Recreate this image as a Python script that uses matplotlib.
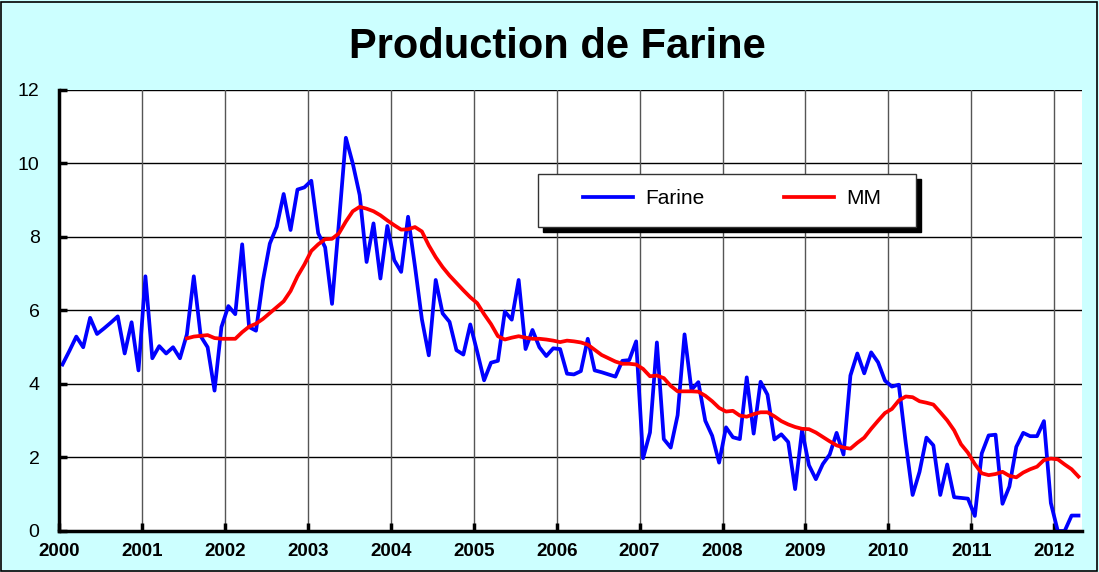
import numpy as np
import matplotlib
matplotlib.use('Agg')
import matplotlib.pyplot as plt
from matplotlib.patches import Rectangle

plt.rcParams['font.family'] = ['Liberation Sans', 'DejaVu Sans']

# monthly data, Jan 2000 - Apr 2012
farine = [4.53, 4.9, 5.29, 5.0, 5.8, 5.36, 5.51, 5.67, 5.84, 4.83, 5.68, 4.37,
          6.93, 4.70, 5.03, 4.83, 5.0, 4.70, 5.35, 6.93, 5.3, 5.0, 3.82, 5.55,
          6.12, 5.9, 7.8, 5.55, 5.45, 6.81, 7.82, 8.28, 9.17, 8.19, 9.29, 9.35,
          9.53, 8.10, 7.72, 6.18, 8.4, 10.70, 10.0, 9.14, 7.32, 8.37, 6.87, 8.30,
          7.37, 7.05, 8.55, 7.2, 5.76, 4.78, 6.83, 5.92, 5.69, 4.92, 4.80, 5.62,
          4.88, 4.10, 4.58, 4.63, 5.97, 5.75, 6.83, 4.95, 5.47, 5.0, 4.76, 4.97,
          4.95, 4.28, 4.26, 4.35, 5.23, 4.37, 4.32, 4.26, 4.2, 4.63, 4.65, 5.16,
          1.98, 2.68, 5.13, 2.5, 2.27, 3.15, 5.35, 3.84, 4.05, 3.0, 2.59, 1.86,
          2.82, 2.55, 2.5, 4.18, 2.65, 4.06, 3.71, 2.49, 2.63, 2.42, 1.14, 2.74,
          1.79, 1.41, 1.82, 2.08, 2.67, 2.08, 4.23, 4.83, 4.29, 4.86, 4.59, 4.09,
          3.93, 3.98, 2.4, 0.98, 1.61, 2.54, 2.33, 0.98, 1.81, 0.92, 0.9, 0.88,
          0.41, 2.11, 2.6, 2.62, 0.74, 1.21, 2.29, 2.67, 2.58, 2.58, 2.99, 0.76,
          0.0, 0.0, 0.42, 0.42]

# moving average, starts at month 18 (Jul 2001)
mm_start = 18
mm = [5.24, 5.29, 5.31, 5.33, 5.25, 5.23,
      5.23, 5.23, 5.41, 5.56, 5.64, 5.77, 5.93, 6.09, 6.25, 6.53, 6.93, 7.25,
      7.62, 7.8, 7.94, 7.95, 8.1, 8.42, 8.7, 8.82, 8.77, 8.7, 8.59, 8.45,
      8.32, 8.2, 8.21, 8.27, 8.15, 7.77, 7.45, 7.18, 6.95, 6.75, 6.55, 6.36,
      6.2, 5.9, 5.63, 5.3, 5.21, 5.26, 5.3, 5.26, 5.23, 5.23, 5.21, 5.18,
      5.14, 5.18, 5.16, 5.13, 5.07, 4.93, 4.79, 4.7, 4.61, 4.55, 4.55, 4.53,
      4.41, 4.21, 4.23, 4.16, 3.95, 3.8, 3.8, 3.8, 3.79, 3.68, 3.53, 3.35,
      3.25, 3.27, 3.14, 3.11, 3.18, 3.23, 3.23, 3.12, 2.99, 2.9, 2.83, 2.78,
      2.77, 2.68, 2.56, 2.44, 2.33, 2.27, 2.24, 2.4, 2.54, 2.78, 3.0, 3.21,
      3.32, 3.55, 3.66, 3.64, 3.53, 3.49, 3.44, 3.23, 3.01, 2.74, 2.36, 2.13,
      1.82, 1.57, 1.52, 1.55, 1.61, 1.5, 1.46, 1.59, 1.68, 1.75, 1.93, 1.97,
      1.95, 1.81, 1.68, 1.48]

years = [str(y) for y in range(2000, 2013)]
yticks = [0, 2, 4, 6, 8, 10, 12]

bg = '#CCFFFF'
n = len(farine)
x = np.arange(n) + 0.5
x_mm = np.arange(mm_start, mm_start + len(mm)) + 0.5

fig = plt.figure(figsize=(10.99, 5.72), dpi=100)
fig.patch.set_facecolor(bg)
fig.patches.append(Rectangle((0.001, 0.002), 0.997, 0.995, transform=fig.transFigure,
                             fill=False, edgecolor='black', linewidth=1.2))

ax = fig.add_axes([0.0537, 0.0717, 0.9308, 0.771])
ax.set_facecolor('white')

ax.plot(x, farine, color='#0000FF', lw=2.7, solid_joinstyle='round', label='Farine', zorder=3)
ax.plot(x_mm, mm, color='#FF0000', lw=2.7, solid_joinstyle='round', label='MM', zorder=4)

ax.set_xlim(0, n)
ax.set_ylim(0, 12)
ax.set_xticks(np.arange(0, 12 * len(years), 12))
ax.set_xticklabels(years, fontsize=13.5, fontweight='bold')
ax.set_yticks(yticks)
ax.set_yticklabels([str(v) for v in yticks], fontsize=14)

for v in yticks[1:]:
    ax.axhline(v, color='black', lw=1, zorder=1)
for t in np.arange(12, n, 12):
    ax.axvline(t, color='#555555', lw=1, zorder=1)

for s in ['top', 'right']:
    ax.spines[s].set_visible(False)
for s in ['left', 'bottom']:
    ax.spines[s].set_linewidth(2.5)
    ax.spines[s].set_zorder(5)
ax.tick_params(axis='both', direction='in', length=6, width=2.5, color='black')
ax.tick_params(axis='y', pad=14)
ax.tick_params(axis='x', pad=9)

# legend frame with shadow
x0, x1, y0, y1 = 0.4682, 0.8377, 0.6893, 0.8095
ax.add_patch(Rectangle((x0 + 0.005, y0 - 0.012), x1 - x0, y1 - y0, transform=ax.transAxes,
                       facecolor='black', edgecolor='black', zorder=6, clip_on=False))
ax.add_patch(Rectangle((x0, y0), x1 - x0, y1 - y0, transform=ax.transAxes,
                       facecolor='white', edgecolor='#333333', lw=1, zorder=7, clip_on=False))
leg = ax.legend(loc='center', bbox_to_anchor=(0.6579, 0.7528), ncol=2, frameon=False,
                fontsize=15, handlelength=2.4, handletextpad=0.58, columnspacing=3.85)
leg.set_zorder(8)

fig.text(0.507, 0.918, 'Production de Farine', ha='center', va='center',
         fontsize=30, fontweight='bold')

fig.savefig('out.png', dpi=100, facecolor=bg)
